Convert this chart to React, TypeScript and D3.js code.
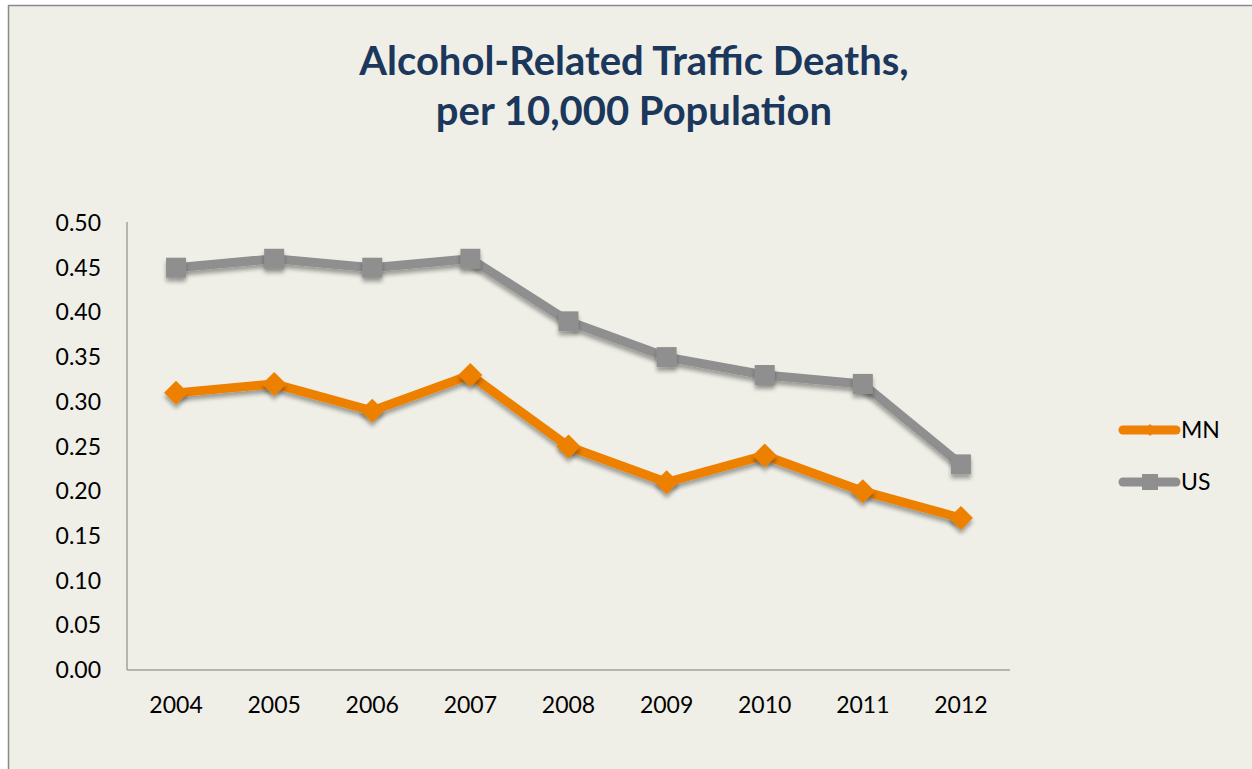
import React from "react";
import * as d3 from "d3";

const years = ["2004", "2005", "2006", "2007", "2008", "2009", "2010", "2011", "2012"];
const mnValues = [0.31, 0.32, 0.29, 0.33, 0.25, 0.21, 0.24, 0.20, 0.17];
const usValues = [0.45, 0.46, 0.45, 0.46, 0.39, 0.35, 0.33, 0.32, 0.23];
const yTicks = [0, 0.05, 0.1, 0.15, 0.2, 0.25, 0.3, 0.35, 0.4, 0.45, 0.5];
const titleLines = ["Alcohol-Related Traffic Deaths,", "per 10,000 Population"];

const W = 1252;
const H = 769;
const plot = { left: 127, right: 1010, top: 223, bottom: 670 };
const FONT = "Lato, 'Open Sans', sans-serif";
const ORANGE = "#ee8004";
const GRAY = "#8f8f8f";

export default function App() {
  const x = d3.scaleBand<string>().domain(years).range([plot.left, plot.right]);
  const y = d3.scaleLinear().domain([0, 0.5]).range([plot.bottom, plot.top]);
  const cx = (d: string) => (x(d) as number) + x.bandwidth() / 2;
  const line = d3
    .line<number>()
    .x((_, i) => cx(years[i]))
    .y((v) => y(v));

  const square = d3.symbol().type(d3.symbolSquare).size(400);
  const diamond = (s: number) =>
    `M0,${-s}L${s},0L0,${s}L${-s},0Z`;

  return (
    <div style={{ position: "fixed", left: 0, top: 0, width: W, height: H }}>
      <svg width={W} height={H} style={{ display: "block" }}>
        <defs>
          <filter id="sh" x="-50%" y="-50%" width="200%" height="200%">
            <feGaussianBlur in="SourceAlpha" stdDeviation="2" />
            <feOffset dx="0" dy="4" result="b" />
            <feComponentTransfer>
              <feFuncA type="linear" slope="0.35" />
            </feComponentTransfer>
            <feMerge>
              <feMergeNode />
              <feMergeNode in="SourceGraphic" />
            </feMerge>
          </filter>
        </defs>
        <rect x={0} y={0} width={W} height={H} fill="#ffffff" />
        <rect x={8.5} y={5.5} width={W + 10} height={H + 10} fill="#efefe7" stroke="#8a8a8a" strokeWidth={1.5} />

        {titleLines.map((t, i) => (
          <text
            key={t}
            x={634}
            y={75 + i * 50}
            textAnchor="middle"
            fontFamily={FONT}
            fontWeight={700}
            fontSize={40}
            fill="#1b375c"
          >
            {t}
          </text>
        ))}

        {/* axes */}
        <line x1={plot.left} x2={plot.left} y1={plot.top - 1} y2={plot.bottom} stroke="#a0a0a0" strokeWidth={1.5} />
        <line x1={plot.left} x2={plot.right} y1={plot.bottom} y2={plot.bottom} stroke="#a0a0a0" strokeWidth={1.5} />

        {yTicks.map((t) => (
          <text
            key={t}
            x={101}
            y={y(t) + 8}
            textAnchor="end"
            fontFamily={FONT}
            fontSize={23}
            fill="#000"
          >
            {d3.format(".2f")(t)}
          </text>
        ))}
        {years.map((yr) => (
          <text
            key={yr}
            x={cx(yr)}
            y={713}
            textAnchor="middle"
            fontFamily={FONT}
            fontSize={23}
            fill="#000"
          >
            {yr}
          </text>
        ))}

        {/* US series */}
        <path d={line(usValues) || ""} fill="none" stroke={GRAY} strokeWidth={9} strokeLinejoin="round" filter="url(#sh)" />
        {usValues.map((v, i) => (
          <path key={"us" + i} d={square() || ""} transform={`translate(${cx(years[i])},${y(v)})`} fill={GRAY} filter="url(#sh)" />
        ))}

        {/* MN series */}
        <path d={line(mnValues) || ""} fill="none" stroke={ORANGE} strokeWidth={9} strokeLinejoin="round" filter="url(#sh)" />
        {mnValues.map((v, i) => (
          <path key={"mn" + i} d={diamond(12)} transform={`translate(${cx(years[i])},${y(v)})`} fill={ORANGE} filter="url(#sh)" />
        ))}

        {/* legend */}
        <g>
          <line x1={1123} x2={1176} y1={430} y2={430} stroke={ORANGE} strokeWidth={9} strokeLinecap="round" />
          <path d={diamond(6)} transform="translate(1150,430)" fill={ORANGE} />
          <text x={1181} y={438} fontFamily={FONT} fontSize={23} fill="#000">MN</text>
          <line x1={1123} x2={1176} y1={482} y2={482} stroke={GRAY} strokeWidth={9} strokeLinecap="round" />
          <rect x={1142} y={474} width={16} height={16} fill={GRAY} />
          <text x={1181} y={490} fontFamily={FONT} fontSize={23} fill="#000">US</text>
        </g>
      </svg>
    </div>
  );
}
